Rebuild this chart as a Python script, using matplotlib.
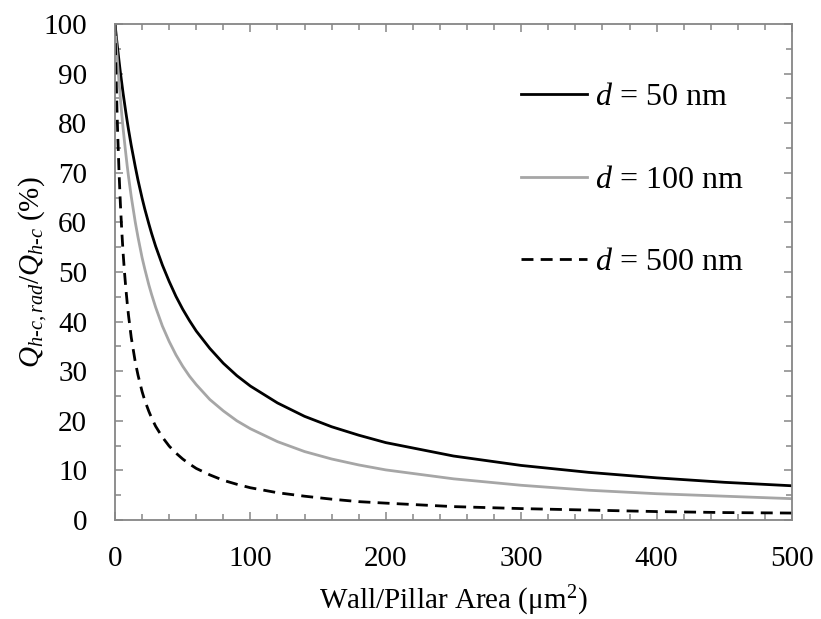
import matplotlib
matplotlib.use("Agg")
import matplotlib.pyplot as plt
from matplotlib.ticker import MultipleLocator

plt.rcParams["font.family"] = ["Liberation Serif", "DejaVu Serif"]
plt.rcParams["mathtext.fontset"] = "custom"
plt.rcParams["mathtext.rm"] = "Liberation Serif"
plt.rcParams["mathtext.it"] = "Liberation Serif:italic"
plt.rcParams["mathtext.bf"] = "Liberation Serif:bold"

# Wall/pillar area (um^2) and heat-flux share (%) for three gap sizes
area = [0, 0.5, 1, 1.5, 2, 3, 4, 5, 6, 7, 8, 9, 10, 12, 15, 17, 20, 22,
        25, 27, 30, 35, 40, 45, 50, 55, 60, 70, 80, 90, 100, 120, 140, 160,
        180, 200, 250, 300, 350, 400, 450, 500]
q_d50 = [100, 98.7, 97.4, 96.1, 94.9, 92.5, 90.2, 88.1, 86.0, 84.1, 82.2,
         80.4, 78.7, 75.5, 71.2, 68.5, 64.9, 62.7, 59.7, 57.8, 55.2, 51.4,
         48.1, 45.1, 42.5, 40.2, 38.1, 34.6, 31.6, 29.1, 27.0, 23.6, 20.9,
         18.8, 17.1, 15.6, 12.9, 11.0, 9.6, 8.5, 7.6, 6.9]
q_d100 = [100, 97.8, 95.7, 93.8, 91.8, 88.2, 84.9, 81.8, 78.9, 76.3, 73.8,
          71.4, 69.2, 65.2, 60.0, 57.0, 52.9, 50.6, 47.4, 45.5, 42.9, 39.1,
          36.0, 33.3, 31.0, 29.0, 27.3, 24.3, 22.0, 20.0, 18.4, 15.8, 13.8,
          12.3, 11.1, 10.1, 8.3, 7.0, 6.0, 5.3, 4.8, 4.3]
q_d500 = [100, 93.3, 87.5, 82.4, 77.8, 70.0, 63.6, 58.3, 53.8, 50.0, 46.7,
          43.8, 41.2, 36.8, 31.8, 29.2, 25.9, 24.1, 21.9, 20.6, 18.9, 16.7,
          14.9, 13.5, 12.3, 11.3, 10.4, 9.1, 8.0, 7.2, 6.5, 5.5, 4.8, 4.2,
          3.7, 3.4, 2.7, 2.3, 2.0, 1.7, 1.5, 1.4]

labels = [r"$d$ = 50 nm", r"$d$ = 100 nm", r"$d$ = 500 nm"]
x_ticks = [0, 100, 200, 300, 400, 500]
y_ticks = [0, 10, 20, 30, 40, 50, 60, 70, 80, 90, 100]

W, H = 821, 619
fig = plt.figure(figsize=(W / 100, H / 100), dpi=100)
ax = fig.add_axes([115 / W, 1 - 520 / H, (792 - 115) / W, (520 - 24) / H])

ax.plot(area, q_d50, color="black", lw=2.0, label=labels[0],
        solid_joinstyle="round")
ax.plot(area, q_d100, color="#a6a6a6", lw=2.0, label=labels[1],
        solid_joinstyle="round")
ax.plot(area, q_d500, color="black", lw=2.0, dashes=(4.3, 2.6),
        label=labels[2])

ax.set_xlim(0, 500)
ax.set_ylim(0, 100)
ax.set_xticks(x_ticks)
ax.set_yticks(y_ticks)
ax.xaxis.set_minor_locator(MultipleLocator(20))
ax.yaxis.set_minor_locator(MultipleLocator(5))

spine_color = "#868686"
for s in ax.spines.values():
    s.set_color(spine_color)
    s.set_linewidth(1.3)

ax.tick_params(which="both", direction="in", color=spine_color, width=1.1,
               top=True, right=True, labelsize=21, labelcolor="black")
ax.tick_params(which="major", length=6)
ax.tick_params(which="minor", length=4)
ax.tick_params(axis="x", which="major", pad=19)
ax.tick_params(axis="y", which="major", pad=20)

ax.set_xlabel(r"Wall/Pillar Area (μm$^{\mathrm{2}}$)", fontsize=21,
              labelpad=8)
ax.set_ylabel(r"$Q_{h\text{-}c,rad}/Q_{h\text{-}c}$ (%)", fontsize=21,
              labelpad=-4)

leg = ax.legend(loc="upper left", bbox_to_anchor=(521 / W, 1 - 83 / H),
                bbox_transform=fig.transFigure, frameon=False, fontsize=23,
                handlelength=2.07, handletextpad=0.25, labelspacing=1.66,
                borderpad=0, borderaxespad=0)

fig.savefig("out.png", dpi=100)
